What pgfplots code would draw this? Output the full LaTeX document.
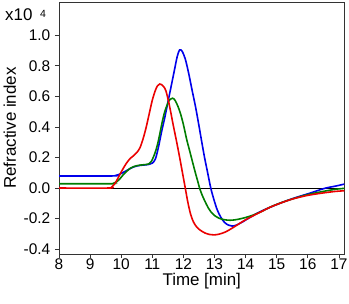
\documentclass[border=0pt]{standalone}
\usepackage{fontspec}
\setmainfont{Liberation Sans}
\usepackage{pgfplots}
\pgfplotsset{compat=1.18}
\definecolor{cblue}{RGB}{0,0,235}
\definecolor{cgreen}{RGB}{0,125,0}
\definecolor{cred}{RGB}{235,0,0}
\begin{document}
\begin{tikzpicture}
\begin{axis}[
  scale only axis, width=285.5bp, height=252bp,
  xmin=8, xmax=17.18, ymin=-0.432, ymax=1.218,
  xtick={8,9,10,11,12,13,14,15,16,17},
  ytick={-0.4,-0.2,0,0.2,0.4,0.6,0.8,1.0},
  yticklabel style={/pgf/number format/fixed, /pgf/number format/fixed zerofill, /pgf/number format/precision=1},
  /pgf/number format/assume math mode=true,
  tick align=outside, xtick pos=bottom, ytick pos=left,
  major tick length=4bp,
  tick style={black!80, line width=0.7pt},
  axis line style={black!80, line width=0.8pt},
  tick label style={font=\fontsize{15.5}{18}\selectfont},
  xticklabel style={inner sep=0pt, yshift=-0.5bp},
  yticklabel style={inner sep=0pt, xshift=-4.5bp},
  xlabel={Time [min]}, ylabel={Refractive index},
  label style={font=\fontsize{17}{20}\selectfont},
  xlabel style={at={(axis description cs:0.5,-0.0754)}, anchor=north, inner sep=0pt},
  ylabel style={at={(axis description cs:-0.195,0.5)}, anchor=north, inner sep=0pt},
  every axis plot/.append style={line width=1.6pt},
  clip=true,
]
\addplot[black, line width=0.8pt] coordinates {(8,0) (17.18,0)};
% blue
\addplot[cblue, smooth] coordinates {
(8.0,0.079) (9.7,0.079) (9.8,0.081) (9.9,0.087) (9.97,0.092) (10.1,0.106) (10.2,0.117) (10.3,0.129)
(10.4,0.138) (10.5,0.144) (10.6,0.148) (10.7,0.150) (10.8,0.152) (10.9,0.155) (11.0,0.163)
(11.1,0.19) (11.2,0.27) (11.3,0.37) (11.4,0.46) (11.5,0.56) (11.6,0.66) (11.7,0.76)
(11.8,0.86) (11.88,0.905) (11.96,0.895) (12.06,0.845) (12.17,0.751) (12.28,0.64) (12.39,0.532)
(12.49,0.42) (12.58,0.314) (12.68,0.2) (12.78,0.1) (12.88,0.0) (12.98,-0.075) (13.09,-0.144)
(13.2,-0.19) (13.32,-0.225) (13.45,-0.243) (13.57,-0.249) (13.7,-0.243) (13.9,-0.222)
(14.2,-0.185) (14.5,-0.152) (15.0,-0.108) (15.5,-0.07) (16.0,-0.038) (16.3,-0.018)
(16.58,0.0) (16.9,0.013) (17.18,0.026)
};
% green
\addplot[cgreen, smooth] coordinates {
(8.0,0.028) (9.65,0.028) (9.75,0.031) (9.85,0.04) (9.97,0.063) (10.07,0.088) (10.17,0.108)
(10.29,0.129) (10.4,0.14) (10.5,0.146) (10.61,0.150) (10.7,0.152) (10.8,0.154) (10.89,0.158)
(10.97,0.175) (11.04,0.205) (11.12,0.25) (11.2,0.314) (11.31,0.424) (11.4,0.50) (11.5,0.555)
(11.57,0.58) (11.65,0.588) (11.73,0.575) (11.83,0.532) (11.91,0.485) (11.99,0.424)
(12.05,0.37) (12.11,0.314) (12.18,0.26) (12.25,0.205) (12.32,0.15) (12.39,0.096) (12.46,0.045)
(12.52,0.0) (12.6,-0.045) (12.7,-0.09) (12.8,-0.13) (12.9,-0.16) (13.0,-0.18) (13.15,-0.198)
(13.3,-0.207) (13.5,-0.211) (13.7,-0.207) (14.0,-0.193) (14.27,-0.175) (14.5,-0.155)
(14.81,-0.123) (15.2,-0.092) (15.56,-0.068) (16.0,-0.043) (16.5,-0.022) (16.9,-0.008) (17.18,-0.002)
};
% red
\addplot[cred, smooth] coordinates {
(8.0,0.0) (9.6,0.0) (9.7,0.008) (9.8,0.03) (9.9,0.066) (9.97,0.094) (10.07,0.13) (10.17,0.163)
(10.29,0.194) (10.4,0.212) (10.5,0.232) (10.6,0.262) (10.7,0.32) (10.8,0.395) (10.9,0.485)
(11.0,0.575) (11.1,0.64) (11.17,0.67) (11.24,0.681) (11.3,0.677) (11.37,0.663) (11.44,0.635)
(11.53,0.56) (11.6,0.49) (11.67,0.415) (11.78,0.305) (11.88,0.2) (11.97,0.1) (12.06,0.0)
(12.14,-0.09) (12.23,-0.17) (12.33,-0.225) (12.44,-0.258) (12.57,-0.28) (12.7,-0.295) (12.84,-0.304)
(12.98,-0.307) (13.15,-0.302) (13.35,-0.288) (13.55,-0.265) (13.73,-0.242) (14.0,-0.208)
(14.48,-0.157) (14.81,-0.124) (15.2,-0.093) (15.56,-0.069) (16.0,-0.048) (16.5,-0.032)
(16.9,-0.022) (17.18,-0.018)
};
\end{axis}
\node[anchor=base west, inner sep=0pt, font=\fontsize{17}{20}\selectfont] at (-54bp,233.3bp) {x10};
\node[anchor=base west, inner sep=0pt, font=\fontsize{10.5}{12}\selectfont] at (-19bp,236.7bp) {4};
\pgfresetboundingbox
\path[use as bounding box] (-59bp,-50bp) rectangle (290bp,254bp);
\end{tikzpicture}
\end{document}
